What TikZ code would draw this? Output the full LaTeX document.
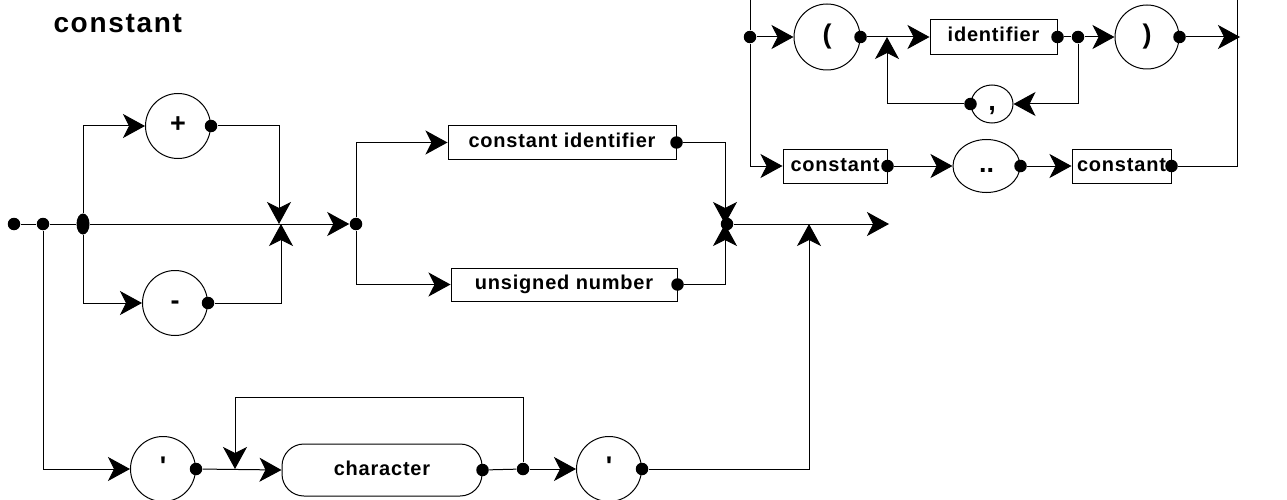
\documentclass[tikz,border=0pt]{standalone}
\usepackage{fontspec}
\setmainfont{Liberation Sans}
\newfontfamily\lblfont{Liberation Sans}[LetterSpace=4]
\newfontfamily\ttlfont{Liberation Sans}[LetterSpace=6]
\usetikzlibrary{arrows.meta,shapes.geometric}

\begin{document}
\begin{tikzpicture}[x=1pt,y=-1pt,line width=1pt,
  arr/.style={-{Stealth[length=22pt,width=24pt,inset=6pt]}},
  dot/.style={circle,fill,inner sep=0pt,minimum size=12.5pt},
  symfont/.style={font=\bfseries\fontsize{27}{31}\selectfont,text height=19pt,text depth=5.5pt},
  term/.style={circle,draw,inner sep=0pt,minimum size=65pt,symfont},
  oval/.style={ellipse,draw,inner sep=0pt,symfont},
  nonterm/.style={rectangle,draw,inner sep=0pt,
    font=\lblfont\bfseries\fontsize{20}{24}\selectfont,text height=14pt,text depth=4pt},
]
\useasboundingbox (0,0) rectangle (1287,500);

% heading
\node[anchor=base west,inner sep=0pt,font=\ttlfont\bfseries\fontsize{28}{32}\selectfont]
  (title) at (53,33) {constant};

% ---------- constant: sign, then identifier or number; or a quoted string
\node[dot] (s0) at (14,224) {};
\node[dot] (s1) at (43,224) {};
\node[ellipse,fill,inner sep=0pt,minimum width=13pt,minimum height=21pt] (s2) at (83,224) {};

\node[term] (plus) at (178,126) {+};
\node[dot] (pd) at (plus.east) {};
\node[term] (minus) at (175,303) {-};
\node[dot] (md) at (minus.east) {};
\coordinate (bt) at (279,224);
\coordinate (bb) at (281,224);

\node[dot] (j1) at (356,224) {};
\node[nonterm,minimum width=228pt,minimum height=33pt] (ci) at (562,142.5) {constant identifier};
\node[dot] (cid) at (ci.east) {};
\node[nonterm,minimum width=226pt,minimum height=33pt] (un) at (564,284.5) {unsigned number};
\node[dot] (und) at (un.east) {};
\coordinate (mg) at (725,224);
\node[dot] (mgd) at (727,224) {};
\coordinate (out) at (889,224);

\node[term] (q1) at (163,469) {\textquotesingle};
\node[dot] (q1d) at (q1.east) {};
\node[nonterm,rounded corners=22pt,minimum width=200pt,minimum height=52pt] (chr) at (382,470) {character};
\node[dot] (chd) at (chr.east) {};
\node[dot] (rep) at (523,469) {};
\coordinate (lt) at (235,469);
\coordinate (ltop) at (235,397);
\node[term] (q2) at (609,469) {\textquotesingle};
\node[dot] (q2d) at (q2.east) {};
\coordinate (up) at (809,224);

\draw (s0) -- (s1);
\draw (s1) -- (s2);
\draw[arr] (s2) -- (j1);
\draw[arr] (s2) |- (plus.west);
\draw[arr] (pd) -| (bt);
\draw[arr] (s2) |- (minus.west);
\draw[arr] (md) -| (bb);
\draw[arr] (j1) |- (ci.west);
\draw[arr] (j1) |- (un.west);
\draw[arr] (cid) -| (mg);
\draw[arr] (und) -| (mg);
\draw[arr] (mgd) -- (out);
\draw[arr] (s1) |- (q1.west);
\draw[arr] (q1d) -- (chr.west);
\draw (chd) -- (rep);
\draw[arr] (rep) |- (ltop) -- (lt);
\draw[arr] (rep) -- (q2.west);
\draw[arr] (q2d) -| (up);

% ---------- enumerated list or subrange
\coordinate (tl) at (750,0);
\coordinate (tr) at (1237,0);
\node[dot] (ad) at (750,37) {};
\node[term,minimum size=66pt] (lp) at (827,37) {(};
\node[dot] (lpd) at (lp.east) {};
\coordinate (ca) at (887,37);
\node[nonterm,minimum width=127pt,minimum height=35pt] (id) at (993.5,37) {identifier};
\node[dot] (idd) at (id.east) {};
\node[dot] (rd) at (1078,37) {};
\node[oval,minimum width=42pt,minimum height=38pt] (cm) at (992,104) {,};
\node[dot] (cmd) at (cm.west) {};
\node[term,minimum size=64pt] (rp) at (1147,37) {)};
\node[dot] (rpd) at (rp.east) {};
\coordinate (ex) at (1240,37);
\node[nonterm,minimum width=104pt,minimum height=34pt] (cb1) at (835,166) {constant};
\node[dot] (cb1d) at (cb1.east) {};
\node[oval,minimum width=67pt,minimum height=53pt] (dd) at (986.5,166) {..};
\node[dot] (ddd) at (dd.east) {};
\node[nonterm,minimum width=99pt,minimum height=34pt] (cb2) at (1121.5,166) {constant};
\node[dot] (cb2d) at (cb2.east) {};

\draw (tl) -- (ad);
\draw[arr] (ad) -- (lp.west);
\draw[arr] (ad) |- (cb1.west);
\draw[arr] (lpd) -- (id.west);
\draw (idd) -- (rd);
\draw[arr] (rd) -- (rp.west);
\draw[arr] (rd) |- (cm.east);
\draw[arr] (cmd) -| (ca);
\draw[arr] (rpd) -- (ex);
\draw[arr] (cb1d) -- (dd.west);
\draw[arr] (ddd) -- (cb2.west);
\draw (cb2d) -| (tr);
\end{tikzpicture}
\end{document}
